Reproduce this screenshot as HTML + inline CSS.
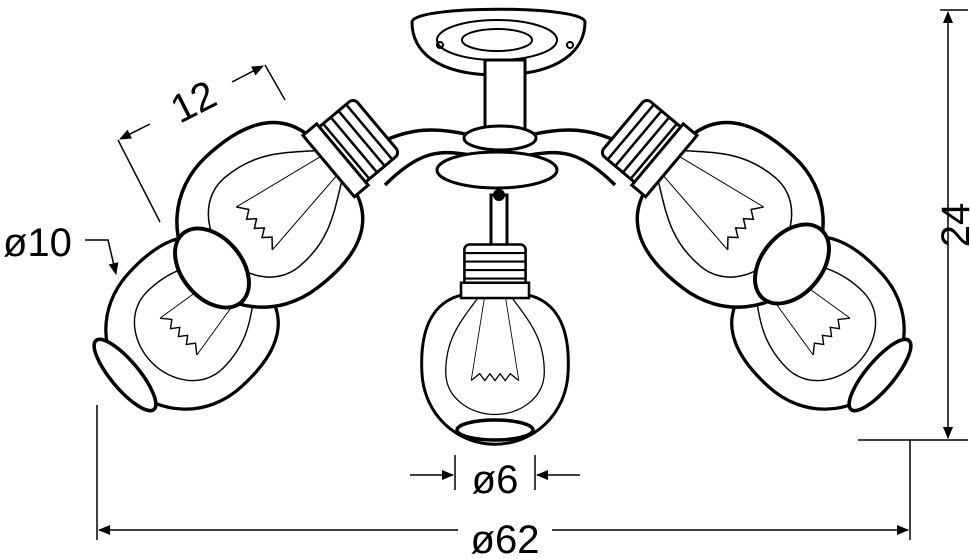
<!DOCTYPE html>
<html><head><style>body{margin:0;background:#fff}svg{display:block}text{font-family:"Liberation Sans",sans-serif;font-size:40px;fill:#000}</style></head><body>
<svg width="970" height="559" viewBox="0 0 970 559" xmlns="http://www.w3.org/2000/svg">
<defs>
<marker id="a" markerWidth="12" markerHeight="12" refX="11" refY="6" orient="auto" markerUnits="userSpaceOnUse"><path d="M0,1 L12,6 L0,11z" fill="#000"/></marker>
<g id="bulb">
  <path d="M-32,-92 C-80,-85 -88,-40 -86,0 C-84,50 -45,85 0,85 C45,85 84,50 86,0 C88,-40 80,-85 32,-92z" fill="#fff" stroke="#000" stroke-width="3.5"/>
  <path d="M-18,-90 C-40,-60 -58,-40 -58,0 C-58,30 -30,50 0,50 C30,50 58,30 58,0 C58,-40 40,-60 18,-90" fill="none" stroke="#000" stroke-width="1.5"/>
  <path d="M-12,-90 L-28,10 M12,-90 L28,10" stroke="#000" stroke-width="1"/>
  <path d="M-28,10 l10,-8 l6,8 l6,-8 l6,8 l6,-8 l6,8 l6,-8 l10,8" fill="none" stroke="#000" stroke-width="1.5"/>
  <rect x="-36" y="-150" width="72" height="60" rx="6" fill="#fff" stroke="#000" stroke-width="3"/>
  <path d="M-36,-140h72M-36,-130h72M-36,-120h72M-36,-110h72M-36,-100h72" stroke="#000" stroke-width="2.5"/>
  <rect x="-40" y="-105" width="80" height="18" fill="#fff" stroke="#000" stroke-width="3"/>
</g>
</defs>
<g stroke="#000" fill="none" stroke-width="1.5">
  <line x1="940" y1="10" x2="968" y2="10"/><line x1="858" y1="440" x2="968" y2="440"/>
  <line x1="948" y1="225" x2="948" y2="12" marker-end="url(#a)"/><line x1="948" y1="225" x2="948" y2="438" marker-end="url(#a)"/>
  <line x1="97" y1="405" x2="97" y2="540"/><line x1="910" y1="440" x2="910" y2="540"/>
  <line x1="458" y1="530" x2="99" y2="530" marker-end="url(#a)"/><line x1="552" y1="530" x2="908" y2="530" marker-end="url(#a)"/>
  <line x1="455" y1="455" x2="455" y2="490"/><line x1="535" y1="455" x2="535" y2="490"/>
  <line x1="410" y1="475" x2="453" y2="475" marker-end="url(#a)"/><line x1="580" y1="475" x2="537" y2="475" marker-end="url(#a)"/>
  <line x1="118" y1="140" x2="160" y2="222"/><line x1="265" y1="65" x2="285" y2="100"/>
  <line x1="150" y1="124" x2="120" y2="139" marker-end="url(#a)"/><line x1="232" y1="82" x2="263" y2="66" marker-end="url(#a)"/>
  <polyline points="85,240 108,240 116,274" marker-end="url(#a)"/>
</g>
<text x="955" y="225" transform="rotate(-90 955 225)" text-anchor="middle" dy="14">24</text>
<text x="505" y="553" text-anchor="middle">ø62</text>
<text x="495" y="493" text-anchor="middle">ø6</text>
<text x="3" y="256">ø10</text>
<text x="195" y="115" transform="rotate(-27 195 105)" text-anchor="middle">12</text>
<!-- lower bulbs -->
<use href="#bulb" transform="translate(185,330) rotate(45) scale(0.93)"/>
<ellipse cx="125" cy="375" rx="14" ry="45" transform="rotate(-40 125 375)" fill="#fff" stroke="#000" stroke-width="3.5"/>
<use href="#bulb" transform="translate(825,330) rotate(-45) scale(0.93)"/>
<ellipse cx="880" cy="375" rx="14" ry="45" transform="rotate(40 880 375)" fill="#fff" stroke="#000" stroke-width="3.5"/>
<!-- canopy and stem -->
<path d="M412,22 C412,5 585,5 585,22 C585,50 560,75 497,75 C435,75 412,50 412,22z" fill="#fff" stroke="#000" stroke-width="3"/>
<ellipse cx="497" cy="40" rx="60" ry="20" fill="none" stroke="#000" stroke-width="2"/>
<ellipse cx="497" cy="40" rx="35" ry="11" fill="none" stroke="#000" stroke-width="2"/>
<circle cx="440" cy="45" r="3" fill="none" stroke="#000" stroke-width="2"/><circle cx="570" cy="45" r="3" fill="none" stroke="#000" stroke-width="2"/>
<rect x="485" y="60" width="40" height="75" fill="#fff" stroke="#000" stroke-width="3"/>
<!-- arms -->
<path d="M370,148 C410,125 440,128 470,135 M385,185 C420,150 440,150 470,155" fill="none" stroke="#000" stroke-width="3.5"/>
<path d="M630,148 C590,125 560,128 530,135 M615,185 C580,150 560,150 530,155" fill="none" stroke="#000" stroke-width="3.5"/>
<ellipse cx="500" cy="138" rx="36" ry="12" fill="#fff" stroke="#000" stroke-width="3"/>
<!-- upper bulbs -->
<use href="#bulb" transform="translate(262,222) rotate(50)"/>
<ellipse cx="212" cy="268" rx="30" ry="45" transform="rotate(-40 212 268)" fill="#fff" stroke="#000" stroke-width="4"/>
<use href="#bulb" transform="translate(738,222) rotate(-50)"/>
<ellipse cx="792" cy="264" rx="30" ry="45" transform="rotate(40 792 264)" fill="#fff" stroke="#000" stroke-width="4"/>
<!-- hub -->
<ellipse cx="497" cy="170" rx="60" ry="18" fill="#fff" stroke="#000" stroke-width="3"/>
<!-- center bulb -->
<rect x="491" y="195" width="16" height="60" fill="#fff" stroke="#000" stroke-width="3"/>
<circle cx="499" cy="195" r="6" fill="#000"/>
<use href="#bulb" transform="translate(495,372) scale(0.85)"/>
<ellipse cx="495" cy="430" rx="38" ry="10" fill="#fff" stroke="#000" stroke-width="3.5"/>
</svg>
</body></html>
